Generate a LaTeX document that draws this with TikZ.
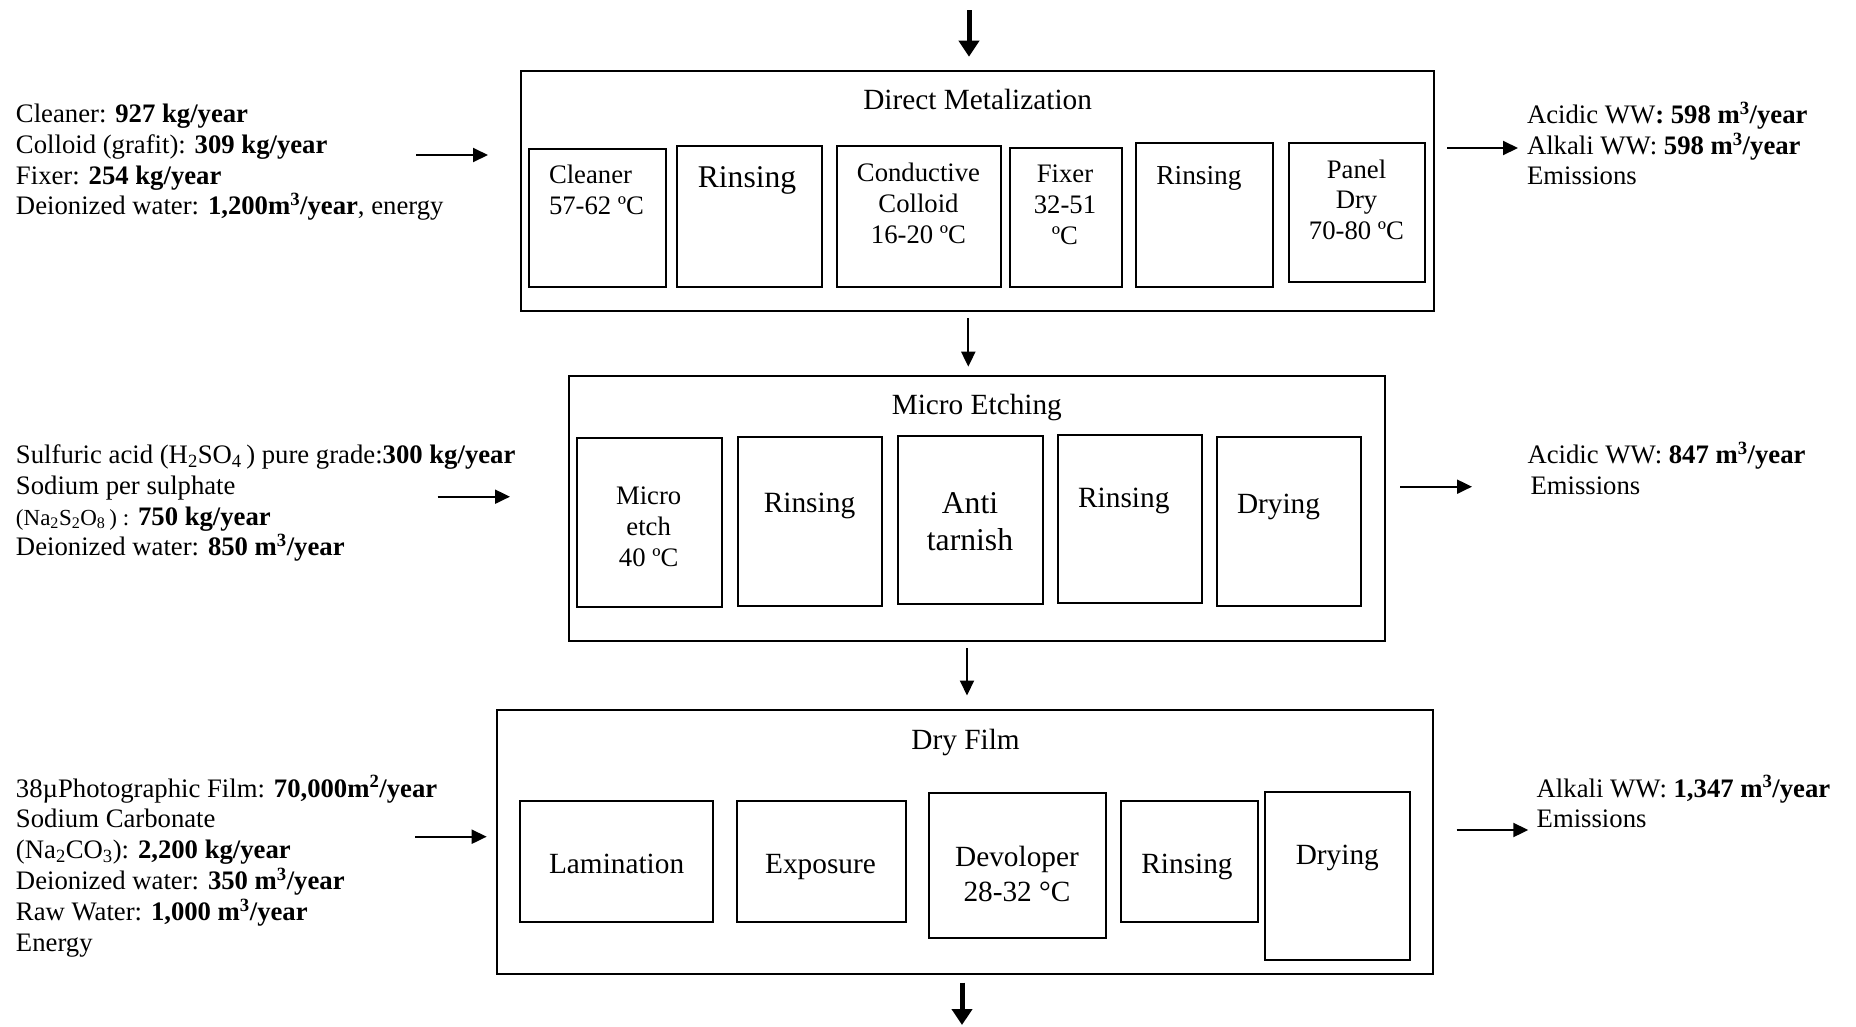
\documentclass[tikz,border=0pt]{standalone}
\usepackage{fontspec}
\setmainfont{Liberation Serif}
\usetikzlibrary{arrows.meta,fit}
\newcommand\fsA{\fontsize{26.7}{30.8}\selectfont}
\newcommand\fsB{\fontsize{29.3}{35}\selectfont}
\newcommand\fsC{\fontsize{31.7}{36.5}\selectfont}
\newcommand\fsS{\fontsize{23}{30.8}\selectfont}
\newcommand\tstr{\rule{0pt}{25pt}}
\newcommand\msup[1]{m\textsuperscript{#1}}
\begin{document}
\begin{tikzpicture}[x=1pt,y=-1pt,
  box/.style={draw,line width=2pt,inner sep=0pt,outer sep=0pt},
  txt/.style={inner sep=0pt,outer sep=0pt,font=\fsA},
  arr/.style={line width=2pt,-{Triangle[length=15pt,width=14pt]}},
  tarr/.style={line width=5pt,-{Triangle[length=16pt,width=20pt]}}]
\useasboundingbox (0,0) rectangle (1856,1026);

% ---------- Direct Metalization ----------
\node[box,fit={(521.4,71)(1433.9,311)}] (dm) {};
\node[txt,anchor=base,font=\fsB] (dmT) at (977.6,109.5) {Direct Metalization};
\node[box,fit={(529.4,148.7)(666,287)}] (dm1) {};
\node[box,fit={(677,145.7)(821.5,287)}] (dm2) {};
\node[box,fit={(837.4,145.7)(1001,287)}] (dm3) {};
\node[box,fit={(1009.5,147.7)(1121.6,287)}] (dm4) {};
\node[box,fit={(1135.6,142.7)(1272.8,287)}] (dm5) {};
\node[box,fit={(1288.7,142.7)(1425.3,281.7)}] (dm6) {};
\node[txt,anchor=north west,align=left] (tdm1) at (549,158.8) {\tstr Cleaner\\57-62 ºC};
\node[txt,anchor=base,font=\fontsize{31.6}{36}\selectfont] (tdm2) at (747,187.9) {Rinsing};
\node[txt,anchor=north,align=center] (tdm3) at (918.5,156.6) {\tstr Conductive\\Colloid\\16-20 ºC};
\node[txt,anchor=north,align=center] (tdm4) at (1065,157.8) {\tstr Fixer\\32-51\\ºC};
\node[txt,anchor=base,font=\fontsize{27.4}{31}\selectfont] (tdm5) at (1199,184) {Rinsing};
\node[txt,anchor=north,align=center] (tdm6) at (1356.5,153.1) {\tstr Panel\\Dry\\70-80 ºC};

\node[txt,anchor=north west,align=left] (inDMtxt) at (16,97.4)
  {\tstr Cleaner: \textbf{927 kg/year}\\
   Colloid (grafit): \textbf{309 kg/year}\\
   Fixer: \textbf{254 kg/year}\\
   Deionized water: \textbf{1,200\msup{3}/year}, energy};
\node[txt,anchor=north west,align=left] (outDMtxt) at (1527,98.3)
  {\tstr Acidic WW\textbf{: 598 \msup{3}/year}\\
   Alkali WW: \textbf{598 \msup{3}/year}\\
   Emissions};

% ---------- Micro Etching ----------
\node[box,fit={(569.2,376)(1384.9,641)}] (me) {};
\node[txt,anchor=base,font=\fsB] (meT) at (976.8,414.6) {Micro Etching};
\node[box,fit={(577.4,438.3)(721.7,606.7)}] (me1) {};
\node[box,fit={(738,437)(882.4,605.7)}] (me2) {};
\node[box,fit={(898.3,435.7)(1042.6,604)}] (me3) {};
\node[box,fit={(1058,434.7)(1202.2,602.7)}] (me4) {};
\node[box,fit={(1217,437)(1361.3,605.7)}] (me5) {};
\node[txt,anchor=north,align=center] (tme1) at (648.7,479.5) {\tstr Micro\\etch\\40 ºC};
\node[txt,anchor=base,font=\fontsize{29.4}{34}\selectfont] (tme2) at (809.5,512.4) {Rinsing};
\node[txt,anchor=north,align=center,font=\fsC] (tme3) at (970,488.8) {\tstr Anti\\tarnish};
\node[txt,anchor=base,font=\fontsize{29.4}{34}\selectfont] (tme4) at (1123.8,507) {Rinsing};
\node[txt,anchor=base,font=\fsB] (tme5) at (1278.5,513) {Drying};

\node[txt,anchor=north west,align=left] (inMEtxt) at (16,438.5)
  {\tstr Sulfuric acid (H\textsubscript{2}SO\textsubscript{4}\,) pure grade:\textbf{300 kg/year}\\
   Sodium per sulphate\\
   {\fsS (Na\textsubscript{2}S\textsubscript{2}O\textsubscript{8}\,) :} \textbf{750 kg/year}\\
   Deionized water: \textbf{850 \msup{3}/year}};
\node[txt,anchor=north west,align=left] (outMEtxt) at (1527.5,438.8)
  {\tstr Acidic WW: \textbf{847 \msup{3}/year}\\
   \hspace*{3pt}Emissions};

% ---------- Dry Film ----------
\node[box,fit={(496.5,710)(1433.4,974.3)}] (df) {};
\node[txt,anchor=base,font=\fsB] (dfT) at (965.6,749.6) {Dry Film};
\node[box,fit={(520.4,801)(713.3,921.7)}] (df1) {};
\node[box,fit={(736.6,801)(905.6,921.7)}] (df2) {};
\node[box,fit={(928.9,793.3)(1105.8,937.7)}] (df3) {};
\node[box,fit={(1120.5,801)(1257.7,921.7)}] (df4) {};
\node[box,fit={(1265,791.7)(1409.6,960)}] (df5) {};
\node[txt,anchor=base,font=\fsB] (tdf1) at (616.6,873) {Lamination};
\node[txt,anchor=base,font=\fsB] (tdf2) at (820.5,873) {Exposure};
\node[txt,anchor=north,align=center,font=\fsB] (tdf3) at (1017,841.3) {\tstr Devoloper\\28-32 °C};
\node[txt,anchor=base,font=\fsB] (tdf4) at (1187,873) {Rinsing};
\node[txt,anchor=base,font=\fsB] (tdf5) at (1337.3,864.6) {Drying};

\node[txt,anchor=north west,align=left] (inDFtxt) at (16,772)
  {\tstr 38µPhotographic Film: \textbf{70,000\msup{2}/year}\\
   Sodium Carbonate\\
   (Na\textsubscript{2}CO\textsubscript{3}): \textbf{2,200 kg/year}\\
   Deionized water: \textbf{350 \msup{3}/year}\\
   Raw Water: \textbf{1,000 \msup{3}/year}\\
   Energy};
\node[txt,anchor=north west,align=left] (outDFtxt) at (1536.7,772)
  {\tstr Alkali WW: \textbf{1,347 \msup{3}/year}\\
   Emissions};

% ---------- connectors ----------
\coordinate (topS) at (969,10);
\draw[tarr,shorten >=14.3pt] (topS) -- (topS |- dm.north);
\coordinate (cA) at (968.3,0);
\draw[arr,shorten <=7pt,shorten >=9.3pt] (dm.south -| cA) -- (me.north -| cA);
\coordinate (cB) at (967,0);
\draw[arr,shorten <=7.3pt,shorten >=14.5pt] (me.south -| cB) -- (df.north -| cB);
\coordinate (botE) at (962,1025);
\draw[tarr,shorten <=8.4pt] (df.south -| botE) -- (botE);

\coordinate (inA) at (416,155);
\draw[arr,shorten >=33.4pt] (inA) -- (inA -| dm.west);
\coordinate (inB) at (437.5,496.7);
\draw[arr,shorten >=59.2pt] (inB) -- (inB -| me.west);
\coordinate (inC) at (415,836.7);
\draw[arr,shorten >=9.8pt] (inC) -- (inC -| df.west);

\coordinate (outA) at (1518,148);
\draw[arr,shorten <=13.1pt] (outA -| dm.east) -- (outA);
\coordinate (outB) at (1472,486.7);
\draw[arr,shorten <=15.4pt] (outB -| me.east) -- (outB);
\coordinate (outC) at (1528.3,830);
\draw[arr,shorten <=23.3pt] (outC -| df.east) -- (outC);
\end{tikzpicture}
\end{document}
